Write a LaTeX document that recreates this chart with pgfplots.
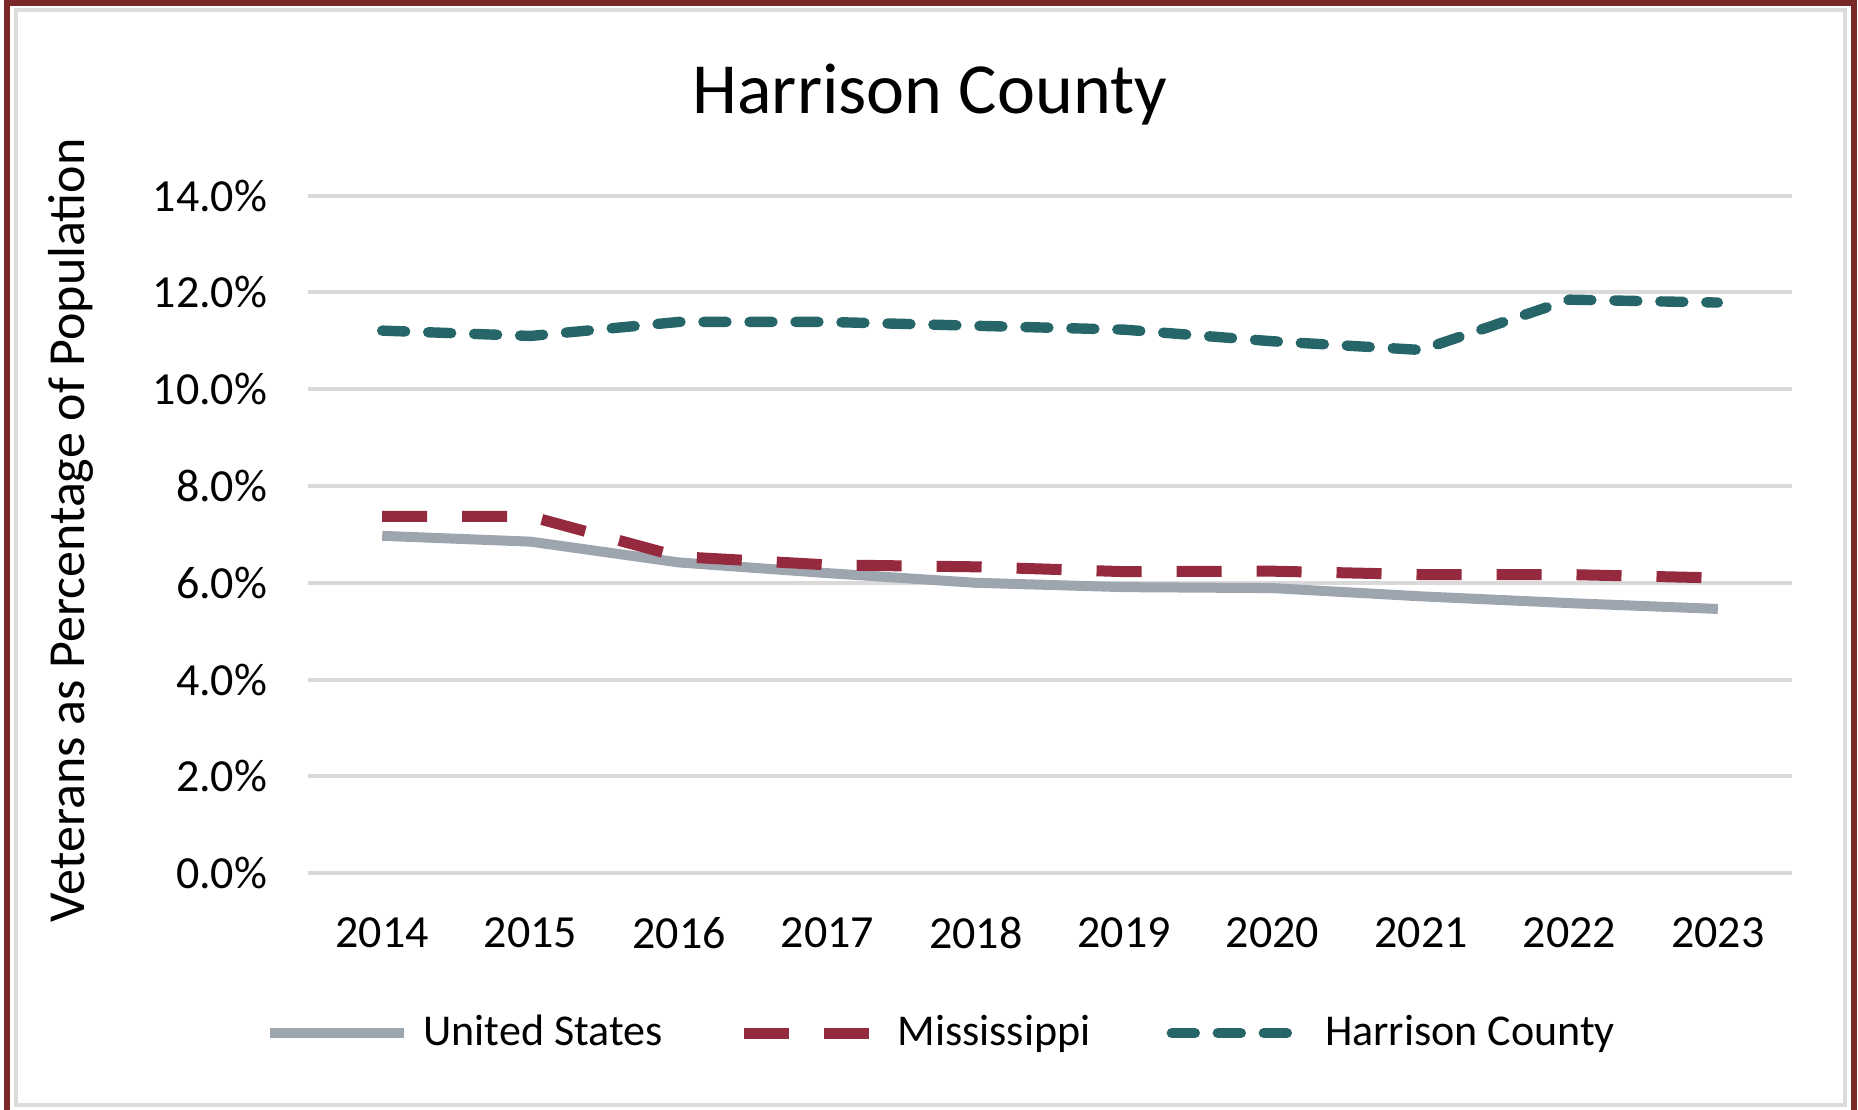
\documentclass[border=0pt]{standalone}
\usepackage{pgfplots}
\pgfplotsset{compat=1.18}
\usepackage{fontspec}
\setmainfont{Carlito}

\definecolor{usgray}{HTML}{9DA6AF}
\definecolor{msred}{HTML}{952A3E}
\definecolor{hcteal}{HTML}{266669}
\definecolor{gridgray}{HTML}{D9D9D9}
\definecolor{framered}{HTML}{7B2828}
\definecolor{framegray}{HTML}{DCDCDC}

\begin{document}
\begin{tikzpicture}
\begin{axis}[
    scale only axis,
    width=371pt, height=169.4pt,
    xmin=-0.5, xmax=9.5,
    ymin=0, ymax=14,
    xtick={0,...,9},
    xticklabels={2014,2015,2016,2017,2018,2019,2020,2021,2022,2023},
    ytick={0,2,...,14},
    yticklabel={\pgfmathprintnumber[fixed,fixed zerofill,precision=1]{\tick}\%},
    /pgf/number format/assume math mode=true,
    ymajorgrids,
    grid style={gridgray, line width=1pt},
    axis line style={draw=none},
    major tick length=0pt,
    tick label style={font=\fontsize{11.5}{13}\selectfont, text=black},
    yticklabel style={anchor=east, inner sep=0pt, xshift=-10pt},
    xticklabel style={anchor=center, inner sep=0pt, yshift=-15pt},
    title={Harrison County},
    title style={at={(axis description cs:0.419,1.114)}, anchor=center,
        font=\fontsize{18}{20}\selectfont},
    ylabel={Veterans as Percentage of Population},
    ylabel style={at={(axis description cs:-0.1596,0.506)}, anchor=center,
        font=\fontsize{13}{15}\selectfont},
    legend columns=3,
    legend style={at={(axis description cs:0.426,-0.236)}, anchor=center,
        draw=none, font=\fontsize{11}{13}\selectfont,
        nodes={inner sep=0pt},
        /tikz/every odd column/.append style={column sep=3.5pt},
        /tikz/every even column/.append style={column sep=19pt}},
    legend image code/.code={\draw[#1] (0pt,0pt) -- (33.5pt,0pt);},
    clip=false,
]
\addplot[usgray, line width=2.5pt, line join=round] coordinates {
    (0,6.97) (1,6.85) (2,6.42) (3,6.20) (4,6.00)
    (5,5.91) (6,5.89) (7,5.72) (8,5.58) (9,5.46)
};
\addlegendentry{United States}
\addplot[msred, line width=2.75pt, line join=round,
    dash pattern=on 11.25pt off 8.75pt] coordinates {
    (0,7.37) (1,7.37) (2,6.54) (3,6.37) (4,6.33)
    (5,6.23) (6,6.24) (7,6.17) (8,6.17) (9,6.10)
};
\addlegendentry{Mississippi}
\addplot[hcteal, line width=2.6pt, line cap=round, line join=round,
    dash pattern=on 5.75pt off 5.75pt] coordinates {
    (0,11.21) (1,11.10) (2,11.39) (3,11.39) (4,11.31)
    (5,11.23) (6,10.99) (7,10.81) (8,11.85) (9,11.79)
};
\addlegendentry{Harrison County}
\end{axis}
% outer frame of the chart
\draw[framegray, line width=1pt] (-72.9pt,-58pt) rectangle (384.25pt,215.9pt);
\draw[framered, line width=1.5pt] (-75.25pt,-59.2pt) -- (-75.25pt,217.55pt)
    -- (386.6pt,217.55pt) -- (386.6pt,-59.2pt);
\pgfresetboundingbox
\useasboundingbox (-77pt,-59.2pt) rectangle (387.5pt,218.3pt);
\end{tikzpicture}
\end{document}
